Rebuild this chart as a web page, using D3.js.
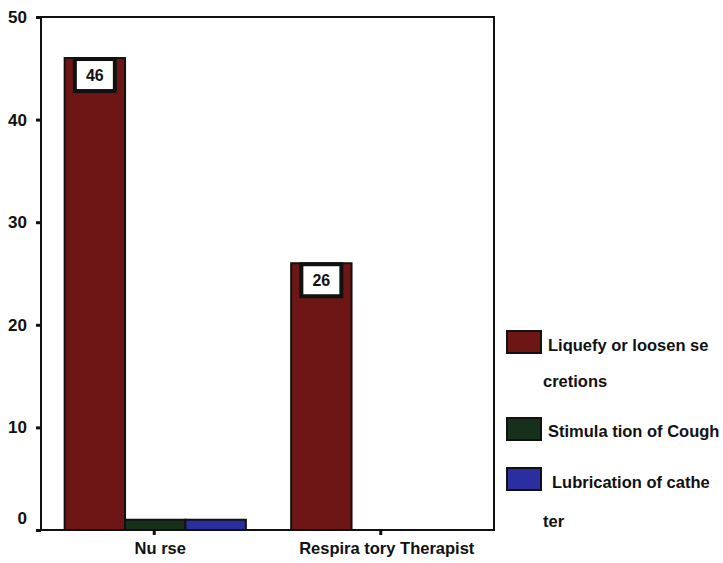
<!DOCTYPE html>
<html>
<head>
<meta charset="utf-8">
<script src="https://cdn.jsdelivr.net/npm/d3@7"></script>
<style>
  html, body { margin: 0; padding: 0; background: #fff; }
  svg { display: block; }
  text { font-family: "Liberation Sans", Arial, sans-serif; fill: #111; }
</style>
</head>
<body>
<svg id="chart" width="723" height="563"></svg>
<script>
// Categories, series and their values
const categories = ["Nu rse", "Respira tory Therapist"];
const seriesNames = ["Liquefy or loosen se\ncretions", "Stimula tion of Cough", "Lubrication of cathe\nter"];
const seriesColors = ["#6e1616", "#17301c", "#2a2e9e"];
const liquefyValues = [46, 26];
const coughValues = [1, 0];
const lubricationValues = [1, 0];
const yTicks = [0, 10, 20, 30, 40, 50];

const seriesValues = [liquefyValues, coughValues, lubricationValues];

const svg = d3.select("#chart");
const margin = { left: 41, top: 17, right: 494, bottom: 530 };

const x0 = d3.scaleBand()
  .domain(categories)
  .range([margin.left, margin.right])
  .paddingInner(0.2)
  .paddingOuter(0.1);

const x1 = d3.scaleBand()
  .domain(d3.range(seriesNames.length))
  .range([0, x0.bandwidth()]);

const y = d3.scaleLinear()
  .domain([0, 50])
  .range([margin.bottom, margin.top]);

// Plot frame
svg.append("rect")
  .attr("x", margin.left)
  .attr("y", margin.top)
  .attr("width", margin.right - margin.left)
  .attr("height", margin.bottom - margin.top)
  .attr("fill", "none")
  .attr("stroke", "#111")
  .attr("stroke-width", 2);

// Bars
const groups = svg.append("g").selectAll("g")
  .data(categories)
  .join("g")
  .attr("transform", d => `translate(${x0(d) + 1},0)`);

groups.selectAll("rect")
  .data((c, ci) => seriesValues.map((vals, si) => ({ si, v: vals[ci] })).filter(d => d.v > 0))
  .join("rect")
  .attr("x", d => x1(d.si))
  .attr("width", x1.bandwidth())
  .attr("y", d => y(d.v))
  .attr("height", d => y(0) - y(d.v))
  .attr("fill", d => seriesColors[d.si])
  .attr("stroke", "#111")
  .attr("stroke-width", 2);

// Value labels on the main series
categories.forEach((c, ci) => {
  const v = liquefyValues[ci];
  const cx = x0(c) + 1 + x1(0) + x1.bandwidth() / 2;
  const top = y(v);
  const w = 40, h = 32;
  svg.append("rect")
    .attr("x", cx - w / 2)
    .attr("y", top + 1)
    .attr("width", w)
    .attr("height", h)
    .attr("fill", "#fff")
    .attr("stroke", "#111")
    .attr("stroke-width", 4);
  svg.append("text")
    .attr("x", cx)
    .attr("y", top + 1 + h / 2)
    .attr("dy", "0.36em")
    .attr("text-anchor", "middle")
    .attr("font-size", 16)
    .attr("font-weight", "bold")
    .text(v);
});

// Y axis
const yAxis = svg.append("g")
  .attr("transform", `translate(${margin.left},0)`)
  .call(d3.axisLeft(y).tickValues(yTicks).tickSize(5).tickPadding(9));
yAxis.select(".domain").remove();
yAxis.selectAll(".tick line").attr("stroke", "#111").attr("stroke-width", 3);
yAxis.selectAll(".tick text")
  .attr("font-size", 17)
  .attr("font-weight", "bold")
  .attr("font-family", "Liberation Sans, Arial, sans-serif")
  .attr("dy", d => d === 0 ? "-0.4em" : "0.32em");

// X axis
const xAxis = svg.append("g")
  .attr("transform", `translate(0,${margin.bottom})`)
  .call(d3.axisBottom(x0).tickSize(5).tickPadding(7));
xAxis.select(".domain").remove();
xAxis.selectAll(".tick line").attr("stroke", "#111").attr("stroke-width", 3);
xAxis.selectAll(".tick text")
  .attr("font-size", 16.5)
  .attr("font-weight", "bold")
  .attr("dx", 6)
  .attr("font-family", "Liberation Sans, Arial, sans-serif");

// Legend
const legendItems = [
  { swatchY: 331, lines: [[548, 345], [543, 381]] },
  { swatchY: 418, lines: [[548, 431]] },
  { swatchY: 468, lines: [[552, 482], [543, 521]] }
];
legendItems.forEach((item, i) => {
  svg.append("rect")
    .attr("x", 507)
    .attr("y", item.swatchY)
    .attr("width", 34)
    .attr("height", 22)
    .attr("fill", seriesColors[i])
    .attr("stroke", "#111")
    .attr("stroke-width", 2);
  const parts = seriesNames[i].split("\n");
  parts.forEach((p, k) => {
    svg.append("text")
      .attr("x", item.lines[k][0])
      .attr("y", item.lines[k][1])
      .attr("dy", "0.35em")
      .attr("font-size", 16.5)
      .attr("font-weight", "bold")
      .text(p);
  });
});
</script>
</body>
</html>
